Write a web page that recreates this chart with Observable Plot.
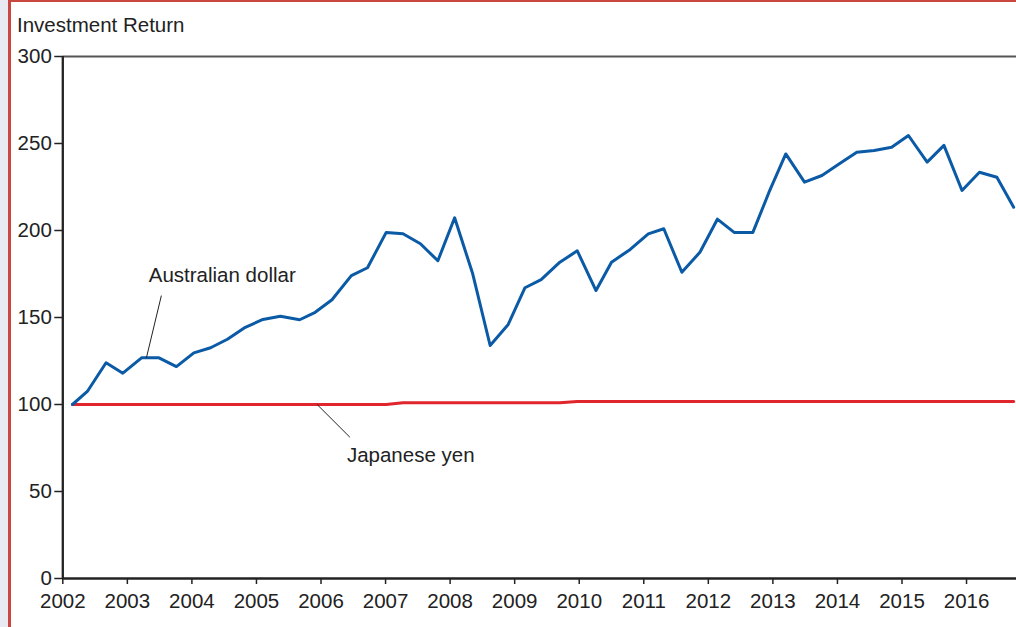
<!DOCTYPE html>
<html>
<head>
<meta charset="utf-8">
<script src="https://cdn.jsdelivr.net/npm/d3@7"></script>
<script src="https://cdn.jsdelivr.net/npm/@observablehq/plot@0.6"></script>
<style>
  html, body { margin: 0; padding: 0; width: 1016px; height: 627px; overflow: hidden; background: #e9e9f3; }
  #frame { position: absolute; left: 8px; top: 0; width: 1100px; height: 700px; background: #fff;
           border-left: 3px solid #c9473e; border-top: 2.5px solid #c9473e; }
  #title { position: absolute; left: 17px; top: 15px; line-height: 1; font-size: 20.5px;
           font-family: "Liberation Sans", Arial, sans-serif; color: #222; white-space: nowrap; }
  #chart { position: absolute; left: 0; top: 0; }
</style>
</head>
<body>
<div id="frame"></div>
<div id="chart"></div>
<div id="title">Investment Return</div>
<script>
// ---- data (decimal years, index values) ----
const dates = [
  2002.15, 2002.38, 2002.67, 2002.93, 2003.22, 2003.49, 2003.76, 2004.03, 2004.29, 2004.55,
  2004.81, 2005.10, 2005.37, 2005.67, 2005.91, 2006.17, 2006.47, 2006.72, 2007.01, 2007.27,
  2007.54, 2007.81, 2008.07, 2008.35, 2008.62, 2008.90, 2009.16, 2009.41, 2009.70, 2009.97,
  2010.26, 2010.50, 2010.79, 2011.07, 2011.31, 2011.59, 2011.87, 2012.14, 2012.40, 2012.69,
  2012.94, 2013.20, 2013.49, 2013.76, 2014.03, 2014.30, 2014.57, 2014.84, 2015.10, 2015.39,
  2015.65, 2015.93, 2016.20, 2016.47, 2016.73
];
const australianDollar = [
  100, 107.5, 124, 118, 126.8, 126.8, 121.8, 129.7, 132.6, 137.5,
  144, 148.9, 150.7, 148.7, 153, 160.2, 174.1, 178.6, 198.9, 198.1,
  192.4, 182.6, 207.3, 175.1, 133.9, 146, 167.1, 171.8, 181.8, 188.3,
  165.5, 181.8, 189.1, 198.1, 201, 176, 187.5, 206.5, 198.9, 198.9,
  222, 244, 227.8, 231.6, 238.3, 245, 246, 247.9, 254.6, 239.3,
  248.9, 223, 233.5, 230.6, 213.4
];
const japaneseYen = [
  100, 100, 100, 100, 100, 100, 100, 100, 100, 100,
  100, 100, 100, 100, 100, 100, 100, 100, 100, 101,
  101, 101, 101, 101, 101, 101, 101, 101, 101, 101.7,
  101.7, 101.7, 101.7, 101.7, 101.7, 101.7, 101.7, 101.7, 101.7, 101.7,
  101.7, 101.7, 101.7, 101.7, 101.7, 101.7, 101.7, 101.7, 101.7, 101.7,
  101.7, 101.7, 101.7, 101.7, 101.7
];
const yTicks = [0, 50, 100, 150, 200, 250, 300];
const xTicks = [2002, 2003, 2004, 2005, 2006, 2007, 2008, 2009, 2010, 2011, 2012, 2013, 2014, 2015, 2016];

// annotations (data units)
const labelNames = ["Australian dollar", "Japanese yen"];
const labelX = [2004.47, 2007.39];
const labelY = [174.4, 70.7];
const leaderX1 = [2003.527, 2005.94];
const leaderY1 = [162.6, 100];
const leaderX2 = [2003.295, 2006.447];
const leaderY2 = [126.8, 81.2];

// ---- build tables ----
const aud = dates.map((d, i) => ({x: d, y: australianDollar[i]}));
const jpy = dates.map((d, i) => ({x: d, y: japaneseYen[i]}));
const labels = labelNames.map((t, i) => ({text: t, x: labelX[i], y: labelY[i]}));
const leaders = leaderX1.map((x1, i) => ({x1, y1: leaderY1[i], x2: leaderX2[i], y2: leaderY2[i]}));

const font = '"Liberation Sans", Arial, sans-serif';

const chart = Plot.plot({
  width: 1016,
  height: 627,
  marginLeft: 62.3,
  marginRight: 0,
  marginTop: 56,
  marginBottom: 49,
  style: {fontFamily: font, fontSize: "20.5px", color: "#222", background: "transparent", overflow: "visible"},
  x: {domain: [2002, 2016.774]},
  y: {domain: [0, 300]},
  marks: [
    Plot.ruleY([300], {stroke: "#555", strokeWidth: 2}),
    Plot.axisY({ticks: yTicks, tickSize: 8, tickPadding: 3, tickFormat: d => String(d), label: null, strokeWidth: 1.5, fill: "#222"}),
    Plot.axisX({ticks: xTicks, tickSize: 6, tickPadding: 9, tickFormat: d => String(d), label: null, strokeWidth: 1.5, fill: "#222"}),
    Plot.line(jpy, {x: "x", y: "y", stroke: "#e1252d", strokeWidth: 3}),
    Plot.line(aud, {x: "x", y: "y", stroke: "#0a5aa6", strokeWidth: 3}),
    Plot.ruleX([2002], {stroke: "#222", strokeWidth: 2.3}),
    Plot.ruleY([0], {stroke: "#222", strokeWidth: 2.5}),
    Plot.link(leaders, {x1: "x1", y1: "y1", x2: "x2", y2: "y2", stroke: "#222", strokeWidth: 1}),
    Plot.text(labels, {x: "x", y: "y", text: "text", fontSize: 20.5, fill: "#222", textAnchor: "middle"})
  ]
});
document.getElementById("chart").appendChild(chart);
</script>
</body>
</html>
